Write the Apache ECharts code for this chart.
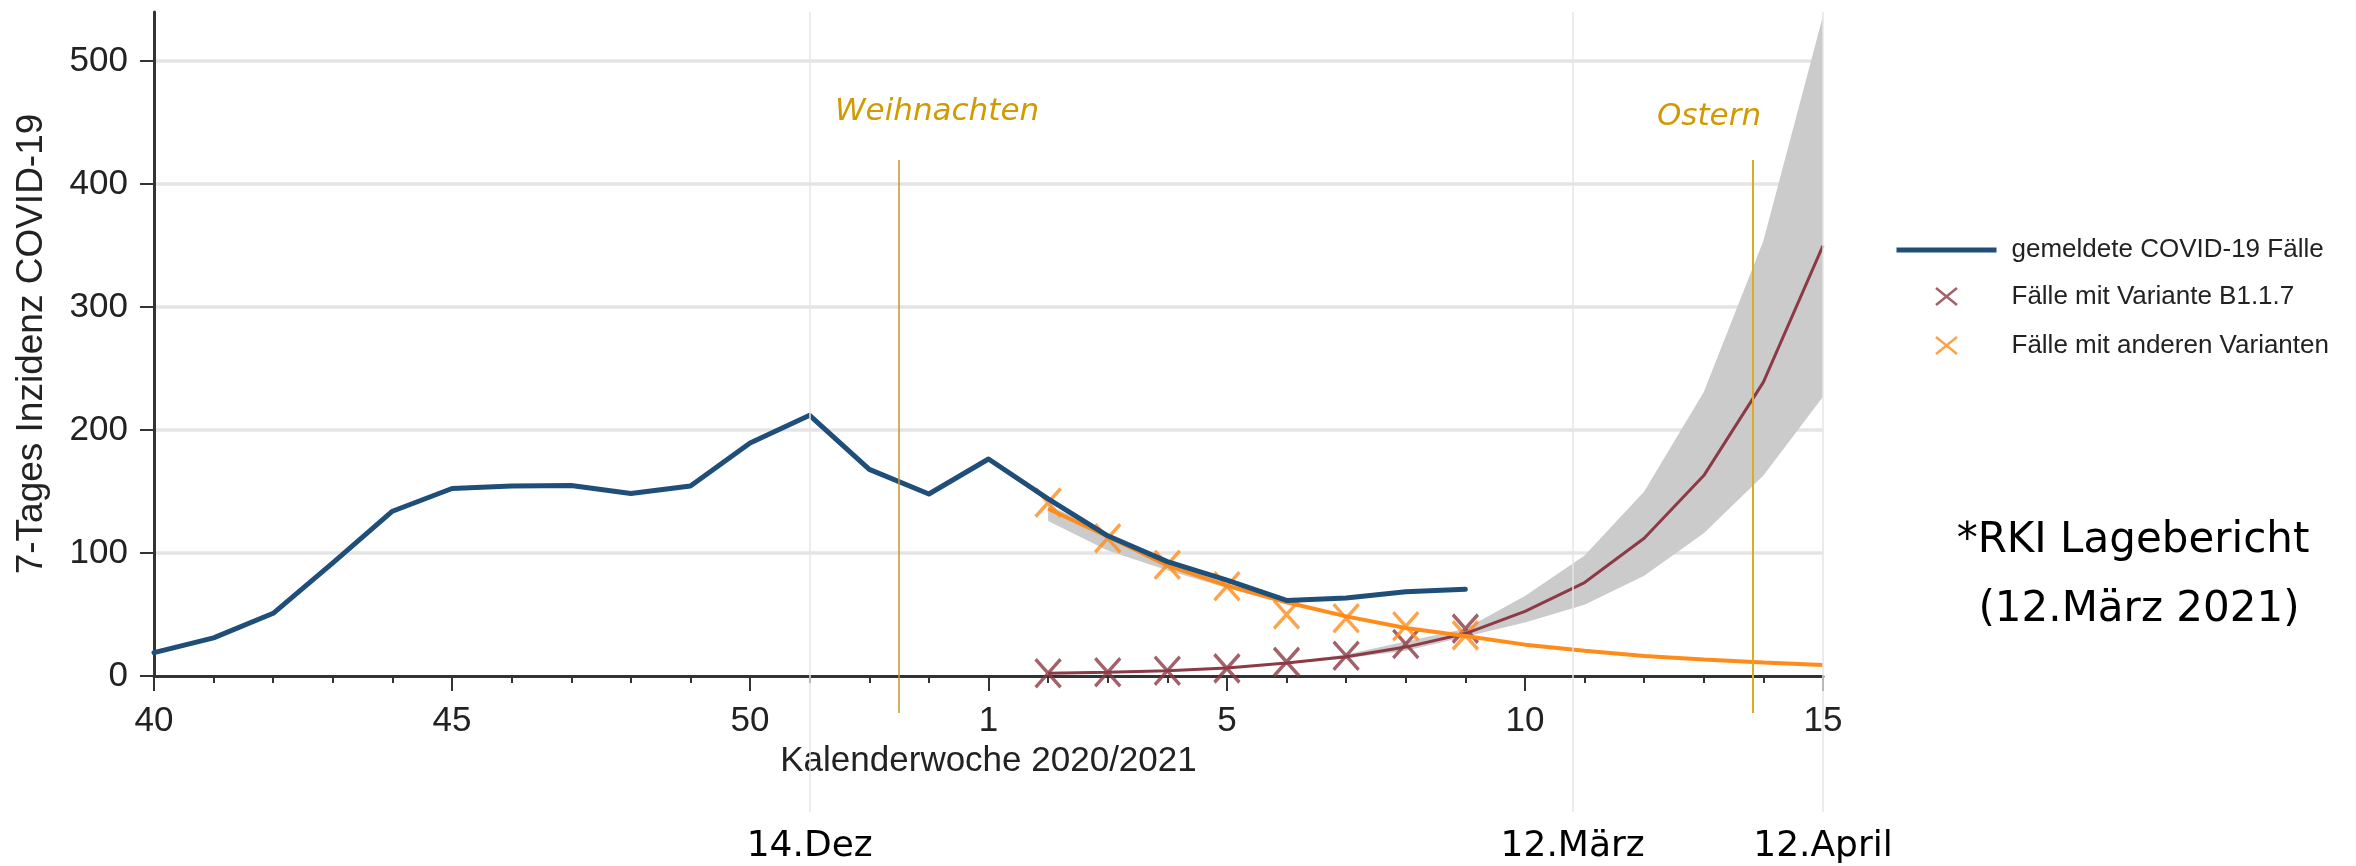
<!DOCTYPE html>
<html>
<head>
<meta charset="utf-8">
<script src="https://cdn.jsdelivr.net/npm/echarts@6/dist/echarts.min.js"></script>
<style>
html,body{margin:0;padding:0;background:#ffffff;}
#chart{width:2356px;height:866px;}
</style>
</head>
<body>
<div id="chart"></div>
<script>
// ---------- data ----------
const weeks = ['40','41','42','43','44','45','46','47','48','49','50','51','52','53',
               '1','2','3','4','5','6','7','8','9','10','11','12','13','14','15'];
const labeledWeeks = ['40','45','50','1','5','10','15'];
const yTicks = [0, 100, 200, 300, 400, 500];

// reported 7-day incidence, from KW40 to KW9
const reported = [19, 31, 51, 92, 134, 152.5, 154.5, 155, 148.5, 154.5, 189.5, 212, 168, 148,
                  176.5, 144, 114, 93, 78, 61.5, 63.5, 68.5, 70.5];
// observed cases by variant, KW2..KW9
const b117Obs  = [2.2, 3, 4.3, 6.2, 11.5, 16.5, 26, 38.5];
const otherObs = [141, 112, 90.5, 73, 50, 47, 40.5, 33];
// fitted / projected curves, KW2..KW15
const b117Fit  = [2.2, 3, 4.3, 6.5, 10.5, 15.7, 23.5, 34.5, 52.5, 76, 112, 163, 239, 350];
const b117Low  = [2, 2.8, 4, 6, 10, 14.5, 20.5, 32, 43.5, 58, 81.5, 116, 163, 227];
const b117High = [2.4, 3.2, 4.6, 7, 11, 17.5, 28, 38.5, 65, 98, 150, 231, 354, 537];
const otherFit = [136, 113.5, 90, 73.5, 60, 48.5, 39, 32.5, 25.5, 20.5, 16.3, 13.4, 10.9, 9];
// uncertainty band of other variants, KW2..KW9
const otherLow  = [126, 102, 86, 71.5, 58.5, 47.5, 38.5, 32];
const otherHigh = [139, 116, 92, 75, 61, 49.5, 39.5, 33];

// reference dates (position in week units from KW40)
const dateMarks = [
  {label: '14.Dez',   pos: 11},
  {label: '12.März',  pos: 23.8},
  {label: '12.April', pos: 28}
];
const holidays = [
  {label: 'Weihnachten', pos: 12.5},
  {label: 'Ostern',      pos: 26.82}
];

// ---------- helpers ----------
const idxOf = w => weeks.indexOf(w);
const pairs = (startWeek, arr) => arr.map((v, i) => [idxOf(startWeek) + i, v]);
const labelPos = labeledWeeks.map(idxOf);

const yMax = 540;
const gridTop = 12, gridH = 664, gridLeft = 154, gridW = 1669;
const extBottom = 812;                         // reference lines reach below the axis
const pxPerUnit = gridH / yMax;
const yMin2 = -(extBottom - (gridTop + gridH)) / pxPerUnit;
const hTop = (gridTop + gridH - 160) / pxPerUnit;   // holiday line top
const hBot = -(713 - (gridTop + gridH)) / pxPerUnit; // holiday line bottom

const cBlue = '#1f4e79', cRed = '#8c3a45', cOrange = '#ff8c1a', cBand = '#cbcbcb';
const axisFont = 'Liberation Sans, Arial, sans-serif';
const annFont = 'DejaVu Sans, Verdana, sans-serif';
const xPath = 'path://M0,0L24,27M24,0L0,27';
const xIcon = 'path://M0,0M100,26M39.5,4.5L60.5,21.5M60.5,4.5L39.5,21.5';

function bandSeries(name, startWeek, lo, hi) {
  const pts = lo.map((v, i) => [idxOf(startWeek) + i, v, hi[i]]);
  return {
    name: name, type: 'custom', silent: true, clip: true,
    data: pts, encode: {x: 0, y: [1, 2]},
    renderItem: (params, api) => {
      if (params.dataIndex !== 0) return null;
      const upper = pts.map(p => api.coord([p[0], p[2]]));
      const lower = pts.map(p => api.coord([p[0], p[1]])).reverse();
      return {type: 'polygon', shape: {points: upper.concat(lower)},
              style: {fill: cBand, stroke: null}};
    }
  };
}

const chart = echarts.init(document.getElementById('chart'), null, {renderer: 'canvas'});

const option = {
  animation: false,
  backgroundColor: '#ffffff',
  grid: [
    {left: gridLeft, top: gridTop, width: gridW, height: gridH, containLabel: false},
    {left: gridLeft, top: gridTop, width: gridW, height: extBottom - gridTop, containLabel: false}
  ],
  xAxis: [
    { type: 'value', gridIndex: 0, min: 0, max: 28, interval: 1, position: 'bottom',
      axisLine: {show: true, onZero: false, lineStyle: {color: '#333', width: 3}},
      axisTick: {show: true, length: 7, lineStyle: {color: '#333', width: 2}},
      axisLabel: {show: false}, splitLine: {show: false} },
    { type: 'value', gridIndex: 0, min: 0, max: 28, position: 'bottom',
      axisLine: {show: false, onZero: false},
      axisTick: {show: true, length: 15, customValues: labelPos, lineStyle: {color: '#333', width: 2}},
      axisLabel: {show: true, customValues: labelPos, margin: 28,
        formatter: v => weeks[Math.round(v)],
        fontFamily: axisFont, fontSize: 35, color: '#222'},
      splitLine: {show: false},
      name: 'Kalenderwoche 2020/2021', nameLocation: 'middle', nameGap: 63,
      nameTextStyle: {fontFamily: axisFont, fontSize: 35, color: '#222'} },
    { type: 'value', gridIndex: 1, min: 0, max: 28, show: false }
  ],
  yAxis: [
    { type: 'value', gridIndex: 0, min: 0, max: yMax, interval: 100,
      axisLine: {show: true, lineStyle: {color: '#333', width: 3}},
      axisTick: {show: true, length: 14, customValues: yTicks, lineStyle: {color: '#333', width: 2}},
      axisLabel: {customValues: yTicks, margin: 26, fontFamily: axisFont, fontSize: 35, color: '#222'},
      splitLine: {show: true, lineStyle: {width: 3.5,
        color: ['rgba(0,0,0,0)', '#e4e4e4', '#e4e4e4', '#e4e4e4', '#e4e4e4', '#e4e4e4', 'rgba(0,0,0,0)']}},
      name: '7-Tages Inzidenz COVID-19', nameLocation: 'middle', nameGap: 104,
      nameTextStyle: {fontFamily: axisFont, fontSize: 37, color: '#222'} },
    { type: 'value', gridIndex: 1, min: yMin2, max: yMax, show: false }
  ],
  legend: {
    orient: 'vertical', left: 1894, top: 237, padding: 0,
    itemWidth: 100, itemHeight: 26, itemGap: 18,
    textStyle: {fontFamily: axisFont, fontSize: 26, color: '#222', padding: [0, 0, 0, 10]},
    data: [
      {name: 'gemeldete COVID-19 Fälle', icon: 'path://M0,0M100,26M0,10.5L100,10.5L100,15.5L0,15.5Z',
       itemStyle: {color: cBlue, borderWidth: 0}},
      {name: 'Fälle mit Variante B1.1.7', icon: xIcon,
       itemStyle: {color: 'none', borderColor: cRed, borderWidth: 2.5}},
      {name: 'Fälle mit anderen Varianten', icon: xIcon,
       itemStyle: {color: 'none', borderColor: cOrange, borderWidth: 2.5}}
    ]
  },
  graphic: [
    {type: 'text', x: 937, y: 112, silent: true,
     style: {text: holidays[0].label, fontFamily: annFont, fontStyle: 'italic', fontSize: 31,
             fill: '#d09a00', align: 'center', verticalAlign: 'middle'}},
    {type: 'text', x: 1709, y: 117, silent: true,
     style: {text: holidays[1].label, fontFamily: annFont, fontStyle: 'italic', fontSize: 31,
             fill: '#d09a00', align: 'center', verticalAlign: 'middle'}},
    {type: 'text', x: 2133, y: 541, silent: true,
     style: {text: '*RKI Lagebericht', fontFamily: annFont, fontSize: 42, fill: '#000',
             align: 'center', verticalAlign: 'middle'}},
    {type: 'text', x: 2139, y: 610, silent: true,
     style: {text: '(12.März 2021)', fontFamily: annFont, fontSize: 42, fill: '#000',
             align: 'center', verticalAlign: 'middle'}}
  ],
  series: [
    // reference lines (dates and holidays) in the extended grid
    { name: 'refLines', type: 'line', xAxisIndex: 2, yAxisIndex: 1, data: [], silent: true,
      markLine: {
        silent: true, symbol: ['none', 'none'], animation: false,
        data: dateMarks.map(d => [
          {name: d.label, coord: [d.pos, yMax],
           lineStyle: {color: '#e6e6e6', width: 1.5, type: 'solid'},
           label: {show: true, position: 'end', distance: 17, formatter: '{b}',
                   fontFamily: annFont, fontSize: 36, color: '#000'}},
          {coord: [d.pos, yMin2 + 0.01]}
        ]).concat(holidays.map((h, i) => [
          {name: h.label, coord: [h.pos, hTop],
           lineStyle: {color: i === 0 ? '#c9952c' : '#ddaa22', width: i === 0 ? 1.5 : 2, type: 'solid'},
           label: {show: false}},
          {coord: [h.pos, hBot]}
        ]))
      } },
    // uncertainty bands
    bandSeries('b117Band', '2', b117Low, b117High),
    bandSeries('otherBand', '2', otherLow, otherHigh),
    // fitted curves
    { name: 'b117Fit', type: 'line', data: pairs('2', b117Fit), symbol: 'none',
      lineStyle: {color: cRed, width: 3}, itemStyle: {color: cRed}, silent: true },
    { name: 'otherFit', type: 'line', data: pairs('2', otherFit), symbol: 'none',
      lineStyle: {color: cOrange, width: 4}, itemStyle: {color: cOrange}, silent: true },
    // reported cases
    { name: 'gemeldete COVID-19 Fälle', type: 'line', data: pairs('40', reported), symbol: 'none',
      lineStyle: {color: cBlue, width: 5, join: 'round', cap: 'round'}, itemStyle: {color: cBlue} },
    // observed markers
    { name: 'Fälle mit Variante B1.1.7', type: 'scatter', data: pairs('2', b117Obs),
      symbol: xPath, symbolSize: [25, 28],
      itemStyle: {color: 'none', borderColor: cRed, borderWidth: 3.5} },
    { name: 'Fälle mit anderen Varianten', type: 'scatter', data: pairs('2', otherObs),
      symbol: xPath, symbolSize: [25, 28],
      itemStyle: {color: 'none', borderColor: cOrange, borderWidth: 3.5} }
  ]
};
chart.setOption(option);
</script>
</body>
</html>
